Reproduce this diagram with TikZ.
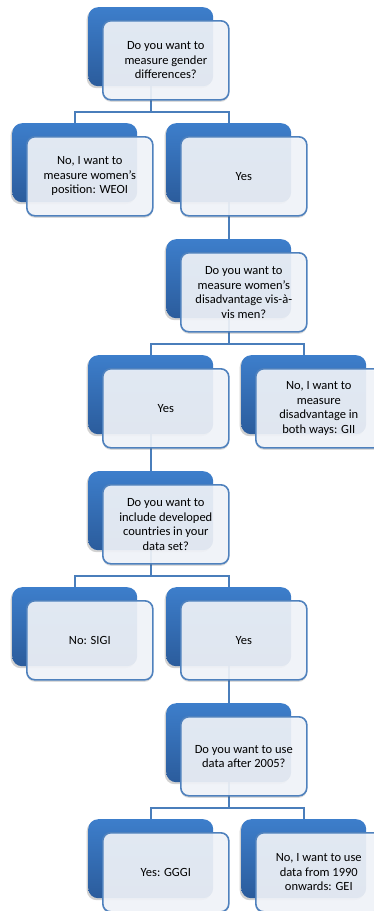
\documentclass[tikz,border=0pt]{standalone}
\usepackage{fontspec}
\setmainfont{Carlito}
\usetikzlibrary{shadows}
\definecolor{bluetop}{HTML}{3D7ECB}
\definecolor{bluebot}{HTML}{2B5C9C}
\definecolor{edgeblue}{HTML}{4F81BD}
\definecolor{linkblue}{HTML}{4A7EBB}
\definecolor{cardfill}{HTML}{F3F6FB}
\pgfdeclarelayer{back}
\pgfsetlayers{back,main}
\tikzset{
  bluebox/.style={draw=none, rounded corners=10pt, minimum width=125pt, minimum height=79pt,
    inner sep=0pt, anchor=north west, top color=bluetop, bottom color=bluebot,
    drop shadow={shadow xshift=-1.5pt, shadow yshift=-2pt, opacity=0.25, fill=black!70}},
  card/.style={draw=edgeblue, line width=1.6pt, rounded corners=8pt, fill=cardfill,
    fill opacity=0.9, text opacity=1, minimum width=126pt, minimum height=79pt,
    inner sep=0pt, align=center, anchor=north west,
    font=\fontsize{12.5}{14.5}\selectfont,
    drop shadow={shadow xshift=0pt, shadow yshift=-2pt, opacity=0.2, fill=black!70}},
  link/.style={draw=linkblue, line width=1.8pt}
}
\begin{document}
\begin{tikzpicture}[x=1pt,y=-1pt]
\useasboundingbox (0,0) rectangle (373,911);
% blue back boxes and cards
\node[bluebox] (qa) at (88,7) {};
\node[card] (qa-t) at (102,20) {Do you want to\\measure gender\\differences?};
\node[bluebox] (nb) at (12,123) {};
\node[card] (nb-t) at (26,136) {No, I want to\\measure women{\char39}s\\position: WEOI};
\node[bluebox] (yc) at (166,123) {};
\node[card] (yc-t) at (180,136) {Yes};
\node[bluebox] (qd) at (166,239) {};
\node[card] (qd-t) at (180,252) {Do you want to\\measure women’s\\disadvantage vis-à-\\vis men?};
\node[bluebox] (ye) at (88,355) {};
\node[card] (ye-t) at (102,368) {Yes};
\node[bluebox] (nf) at (241,355) {};
\node[card] (nf-t) at (255,368) {No, I want to\\measure\\disadvantage in\\both ways: GII};
\node[bluebox] (qg) at (88,471) {};
\node[card] (qg-t) at (102,484) {Do you want to\\include developed\\countries in your\\data set?};
\node[bluebox] (nh) at (12,587) {};
\node[card] (nh-t) at (26,600) {No: SIGI};
\node[bluebox] (yi) at (166,587) {};
\node[card] (yi-t) at (180,600) {Yes};
\node[bluebox] (qj) at (166,703) {};
\node[card] (qj-t) at (180,716) {Do you want to use\\data after 2005?};
\node[bluebox] (yk) at (88,819) {};
\node[card] (yk-t) at (102,832) {Yes: GGGI};
\node[bluebox] (nl) at (241,819) {};
\node[card] (nl-t) at (255,832) {No, I want to use\\data from 1990\\onwards: GEI};
% connectors
\begin{pgfonlayer}{back}
\draw[link] (qa.south) -- ++(0,25.5) coordinate (busa);
\draw[link] (busa) -| (nb.north);
\draw[link] (busa) -| (yc.north);
\draw[link] (yc.south) -- (qd.north);
\draw[link] (qd.south) -- ++(0,25.5) coordinate (busd);
\draw[link] (busd) -| (ye.north);
\draw[link] (busd) -| (nf.north);
\draw[link] (ye.south) -- (qg.north);
\draw[link] (qg.south) -- ++(0,25.5) coordinate (busg);
\draw[link] (busg) -| (nh.north);
\draw[link] (busg) -| (yi.north);
\draw[link] (yi.south) -- (qj.north);
\draw[link] (qj.south) -- ++(0,25.5) coordinate (busj);
\draw[link] (busj) -| (yk.north);
\draw[link] (busj) -| (nl.north);
\end{pgfonlayer}
\end{tikzpicture}
\end{document}
